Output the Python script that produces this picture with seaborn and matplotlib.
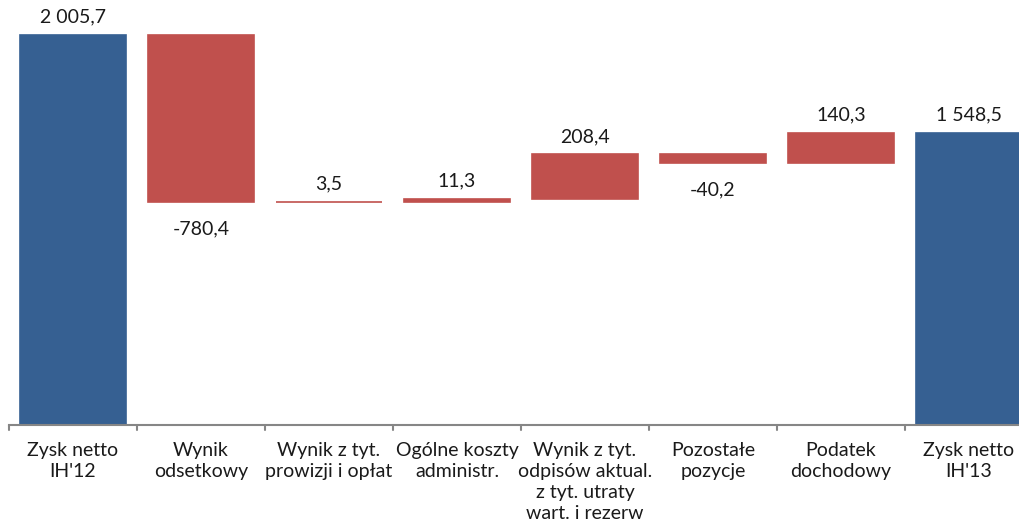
import numpy as np
import matplotlib
matplotlib.use("Agg")
import matplotlib.pyplot as plt
import seaborn as sns

categories = ["Zysk netto\nIH'12", "Wynik\nodsetkowy", "Wynik z tyt.\nprowizji i opłat",
              "Ogólne koszty\nadministr.", "Wynik z tyt.\nodpisów aktual.\nz tyt. utraty\nwart. i rezerw",
              "Pozostałe\npozycje", "Podatek\ndochodowy", "Zysk netto\nIH'13"]
values = [2005.7, -780.4, 3.5, 11.3, 208.4, -40.2, 140.3, 1548.5]
is_total = [True, False, False, False, False, False, False, True]

BLUE = "#366092"
RED = "#C0504D"

# waterfall bottoms / heights
bottoms, heights = [], []
running = 0.0
for v, t in zip(values, is_total):
    if t:
        bottoms.append(0.0)
        heights.append(v)
        running = v
    else:
        bottoms.append(running)
        heights.append(v)
        running += v

sns.set_theme(style="white")
plt.rcParams['font.family'] = ['Lato', 'DejaVu Sans']

fig = plt.figure(figsize=(10.19, 5.25), dpi=100)
ax = fig.add_axes([9 / 1019, 100 / 525, 1024 / 1019, 425 / 525])

sns.barplot(x=categories, y=heights, bottom=bottoms, order=categories,
            width=0.83, color=BLUE, ax=ax, linewidth=0)
for p, t in zip(ax.patches, is_total):
    c = BLUE if t else RED
    p.set_facecolor(c)
    p.set_edgecolor(c)
    p.set_linewidth(1.2)

ax.set_ylim(186.2, 2169.4)
ax.set_xlim(-0.5, 7.5)

def fmt(v):
    s = f"{abs(v):,.1f}".replace(",", " ").replace(".", ",")
    return ("-" if v < 0 else "") + s

for i, (b, h, v) in enumerate(zip(bottoms, heights, values)):
    top = b + h
    if v >= 0:
        ax.annotate(fmt(v), (i, top), xytext=(0, 13), textcoords="offset points",
                    ha="center", va="center", fontsize=14, color="#1a1a1a")
    else:
        ax.annotate(fmt(v), (i, top), xytext=(0, -19), textcoords="offset points",
                    ha="center", va="center", fontsize=14, color="#1a1a1a")

for s in ["top", "right", "left"]:
    ax.spines[s].set_visible(False)
ax.spines["bottom"].set_color("#868686")
ax.spines["bottom"].set_linewidth(1.5)
ax.set_yticks([])
ax.set_xticks(np.arange(len(categories)))
ax.set_xticklabels(categories, fontsize=14, color="#1a1a1a", linespacing=1.3)
ax.tick_params(axis="x", length=0, pad=12)
for xb in np.arange(-0.5, len(categories), 1.0):
    ax.plot([xb, xb], [0, -0.012], transform=ax.get_xaxis_transform(),
            color="#868686", lw=1.5, clip_on=False)

fig.savefig("out.png", dpi=100)
